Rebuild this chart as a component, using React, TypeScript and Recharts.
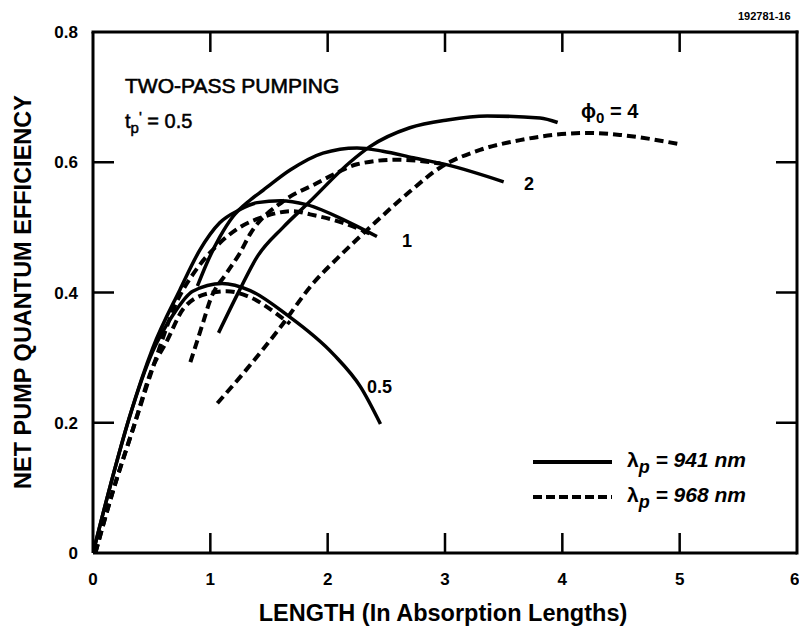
import { LineChart, Line, XAxis, YAxis } from "recharts"

type Pt = { x: number; y: number }

const FONT = '"Liberation Sans", Arial, Helvetica, sans-serif'

const xTicks = [0, 1, 2, 3, 4, 5, 6]
const yTicks = [0, 0.2, 0.4, 0.6, 0.8]
const innerXTicks = [1, 2, 3, 4, 5]
const innerYTicks = [0.2, 0.4, 0.6]
const X_DOMAIN: [number, number] = [0, 6]
const Y_DOMAIN: [number, number] = [0, 0.8]

// lambda_p = 941 nm (solid)
const solid05: Pt[] = [
  { x: 0, y: 0 }, { x: 0.15, y: 0.105 }, { x: 0.31, y: 0.208 }, { x: 0.51, y: 0.31 },
  { x: 0.68, y: 0.365 }, { x: 0.85, y: 0.402 }, { x: 1.1, y: 0.414 }, { x: 1.34, y: 0.403 },
  { x: 1.65, y: 0.366 }, { x: 2.05, y: 0.305 }, { x: 2.28, y: 0.255 }, { x: 2.45, y: 0.198 },
]
const solid1: Pt[] = [
  { x: 0, y: 0 }, { x: 0.15, y: 0.105 }, { x: 0.31, y: 0.208 }, { x: 0.51, y: 0.315 },
  { x: 0.74, y: 0.404 }, { x: 0.91, y: 0.465 }, { x: 1.08, y: 0.507 }, { x: 1.25, y: 0.527 },
  { x: 1.4, y: 0.538 }, { x: 1.6, y: 0.541 }, { x: 1.82, y: 0.535 }, { x: 2.19, y: 0.507 },
  { x: 2.42, y: 0.486 },
]
const solid2: Pt[] = [
  { x: 0.89, y: 0.41 }, { x: 0.97, y: 0.445 }, { x: 1.08, y: 0.485 }, { x: 1.19, y: 0.516 },
  { x: 1.34, y: 0.542 }, { x: 1.45, y: 0.557 }, { x: 1.68, y: 0.588 }, { x: 1.96, y: 0.614 },
  { x: 2.25, y: 0.622 }, { x: 2.47, y: 0.617 }, { x: 2.73, y: 0.607 }, { x: 3.02, y: 0.596 },
  { x: 3.5, y: 0.57 },
]
const solid4: Pt[] = [
  { x: 1.07, y: 0.338 }, { x: 1.25, y: 0.404 }, { x: 1.4, y: 0.455 }, { x: 1.62, y: 0.5 },
  { x: 1.85, y: 0.54 }, { x: 2.19, y: 0.6 }, { x: 2.36, y: 0.624 }, { x: 2.7, y: 0.653 },
  { x: 3.02, y: 0.665 }, { x: 3.36, y: 0.671 }, { x: 3.81, y: 0.668 }, { x: 3.96, y: 0.661 },
]

// lambda_p = 968 nm (dashed)
const dash05: Pt[] = [
  { x: 0.02, y: 0 }, { x: 0.17, y: 0.095 }, { x: 0.34, y: 0.19 }, { x: 0.52, y: 0.29 },
  { x: 0.62, y: 0.322 }, { x: 0.77, y: 0.375 }, { x: 0.97, y: 0.398 }, { x: 1.14, y: 0.402 },
  { x: 1.31, y: 0.395 }, { x: 1.62, y: 0.36 }, { x: 1.68, y: 0.352 },
]
const dash1: Pt[] = [
  { x: 0.02, y: 0 }, { x: 0.17, y: 0.095 }, { x: 0.34, y: 0.19 }, { x: 0.52, y: 0.29 },
  { x: 0.7, y: 0.38 }, { x: 0.9, y: 0.44 }, { x: 1.08, y: 0.476 }, { x: 1.25, y: 0.5 },
  { x: 1.45, y: 0.516 }, { x: 1.7, y: 0.525 }, { x: 1.85, y: 0.52 }, { x: 2.13, y: 0.507 },
  { x: 2.39, y: 0.488 },
]
const dash2: Pt[] = [
  { x: 0.83, y: 0.293 }, { x: 0.94, y: 0.355 }, { x: 1.0, y: 0.389 }, { x: 1.14, y: 0.43 },
  { x: 1.25, y: 0.46 }, { x: 1.34, y: 0.49 }, { x: 1.62, y: 0.54 }, { x: 1.91, y: 0.568 },
  { x: 2.08, y: 0.584 }, { x: 2.25, y: 0.597 }, { x: 2.59, y: 0.604 }, { x: 2.96, y: 0.598 },
]
const dash4: Pt[] = [
  { x: 1.06, y: 0.23 }, { x: 1.3, y: 0.28 }, { x: 1.59, y: 0.345 }, { x: 1.88, y: 0.415 },
  { x: 2.08, y: 0.452 }, { x: 2.39, y: 0.505 }, { x: 2.7, y: 0.555 }, { x: 2.96, y: 0.592 },
  { x: 3.3, y: 0.619 }, { x: 3.64, y: 0.634 }, { x: 4.21, y: 0.645 }, { x: 4.49, y: 0.642 },
  { x: 4.99, y: 0.628 },
]

const series = [
  { id: "s05", data: solid05, dashed: false },
  { id: "s1", data: solid1, dashed: false },
  { id: "s2", data: solid2, dashed: false },
  { id: "s4", data: solid4, dashed: false },
  { id: "d05", data: dash05, dashed: true },
  { id: "d1", data: dash1, dashed: true },
  { id: "d2", data: dash2, dashed: true },
  { id: "d4", data: dash4, dashed: true },
]

// chart layout
const W = 799
const H = 627
const MARGIN = { top: 32, right: 2, left: 0, bottom: 34 }
const Y_AXIS_W = 93
const X_AXIS_H = 40
const PLOT_L = MARGIN.left + Y_AXIS_W
const PLOT_R = W - MARGIN.right
const PLOT_T = MARGIN.top
const PLOT_B = H - MARGIN.bottom - X_AXIS_H
const sx = (v: number) => PLOT_L + ((v - X_DOMAIN[0]) / (X_DOMAIN[1] - X_DOMAIN[0])) * (PLOT_R - PLOT_L)
const sy = (v: number) => PLOT_B - ((v - Y_DOMAIN[0]) / (Y_DOMAIN[1] - Y_DOMAIN[0])) * (PLOT_B - PLOT_T)
const TICK = 20
const FRAME_W = 3
const TICK_W = 2.5

const tickStyle = { fill: "#000", fontSize: 17, fontWeight: 700, fontFamily: FONT }
const axisLine = { stroke: "#000", strokeWidth: 3 }

export default function App() {
  return (
    <div style={{ position: "absolute", left: 0, top: 0, width: W, height: H, background: "#fff" }}>
      <LineChart width={W} height={H} margin={MARGIN}>
        <XAxis
          dataKey="x"
          type="number"
          domain={X_DOMAIN}
          allowDataOverflow
          ticks={xTicks}
          tickLine={false}
          tickSize={0}
          tickMargin={20}
          height={X_AXIS_H}
          axisLine={axisLine}
          tick={tickStyle}
        />
        <YAxis
          type="number"
          domain={Y_DOMAIN}
          allowDataOverflow
          ticks={yTicks}
          tickFormatter={(v: number) => (v === 0 ? "0" : v.toFixed(1))}
          tickLine={false}
          tickSize={0}
          tickMargin={15}
          width={Y_AXIS_W}
          axisLine={axisLine}
          tick={tickStyle}
        />
        {series.map((s) => (
          <Line
            key={s.id}
            data={s.data}
            dataKey="y"
            type="monotone"
            stroke="#000"
            strokeWidth={s.dashed ? 4 : 3.5}
            strokeDasharray={s.dashed ? "9 5" : undefined}
            dot={false}
            activeDot={false}
            isAnimationActive={false}
          />
        ))}
      </LineChart>

      <svg
        width={W}
        height={H}
        style={{ position: "absolute", left: 0, top: 0, pointerEvents: "none", fontFamily: FONT }}
      >
        {/* top and right frame edges plus inward ticks, as filled bars */}
        <g fill="#000">
          <rect x={PLOT_L - FRAME_W / 2} y={PLOT_T - FRAME_W / 2} width={PLOT_R - PLOT_L + FRAME_W} height={FRAME_W} />
          <rect x={PLOT_R - FRAME_W / 2} y={PLOT_T - FRAME_W / 2} width={FRAME_W} height={PLOT_B - PLOT_T + FRAME_W} />
          {innerXTicks.map((t) => (
            <g key={"x" + t}>
              <rect x={sx(t) - TICK_W / 2} y={PLOT_B - TICK} width={TICK_W} height={TICK} />
              <rect x={sx(t) - TICK_W / 2} y={PLOT_T} width={TICK_W} height={TICK} />
            </g>
          ))}
          {innerYTicks.map((t) => (
            <g key={"y" + t}>
              <rect x={PLOT_L} y={sy(t) - TICK_W / 2} width={TICK + 1} height={TICK_W} />
              <rect x={PLOT_R - TICK - 1} y={sy(t) - TICK_W / 2} width={TICK + 1} height={TICK_W} />
            </g>
          ))}
        </g>

        <text x={738} y={20} fontSize={11} fontWeight={700}>192781-16</text>

        <text x={125} y={93} fontSize={21} stroke="#000" strokeWidth={0.6}>TWO-PASS PUMPING</text>
        <text x={125} y={128} fontSize={20} stroke="#000" strokeWidth={0.5}>
          <tspan>t</tspan>
          <tspan dy={5} fontSize={15}>p</tspan>
          <tspan dy={-11} fontSize={15}>'</tspan>
          <tspan dy={6}> = 0.5</tspan>
        </text>

        <text x={581} y={118} fontSize={20} fontWeight={700}>
          <tspan>ϕ</tspan>
          <tspan dy={5} fontSize={15}>0</tspan>
          <tspan dy={-5}> = 4</tspan>
        </text>
        <text x={524} y={190} fontSize={18} fontWeight={700}>2</text>
        <text x={402} y={247} fontSize={18} fontWeight={700}>1</text>
        <text x={367} y={393} fontSize={18} fontWeight={700}>0.5</text>

        <line x1={533} x2={612} y1={462} y2={462} stroke="#000" strokeWidth={4} />
        <line x1={533} x2={612} y1={497} y2={497} stroke="#000" strokeWidth={4} strokeDasharray="9 4" />
        <text x={627} y={467} fontSize={21} fontWeight={700}>
          <tspan>λ</tspan>
          <tspan dy={6} fontSize={18} fontStyle="italic">p</tspan>
          <tspan dy={-6} fontStyle="italic"> = 941 nm</tspan>
        </text>
        <text x={627} y={502} fontSize={21} fontWeight={700}>
          <tspan>λ</tspan>
          <tspan dy={6} fontSize={18} fontStyle="italic">p</tspan>
          <tspan dy={-6} fontStyle="italic"> = 968 nm</tspan>
        </text>

        <text x={443} y={621} fontSize={23.5} fontWeight={700} textAnchor="middle">
          LENGTH (In Absorption Lengths)
        </text>
        <text transform="translate(31,292) rotate(-90)" fontSize={23.5} fontWeight={700} textAnchor="middle">
          NET PUMP QUANTUM EFFICIENCY
        </text>
      </svg>
    </div>
  )
}
